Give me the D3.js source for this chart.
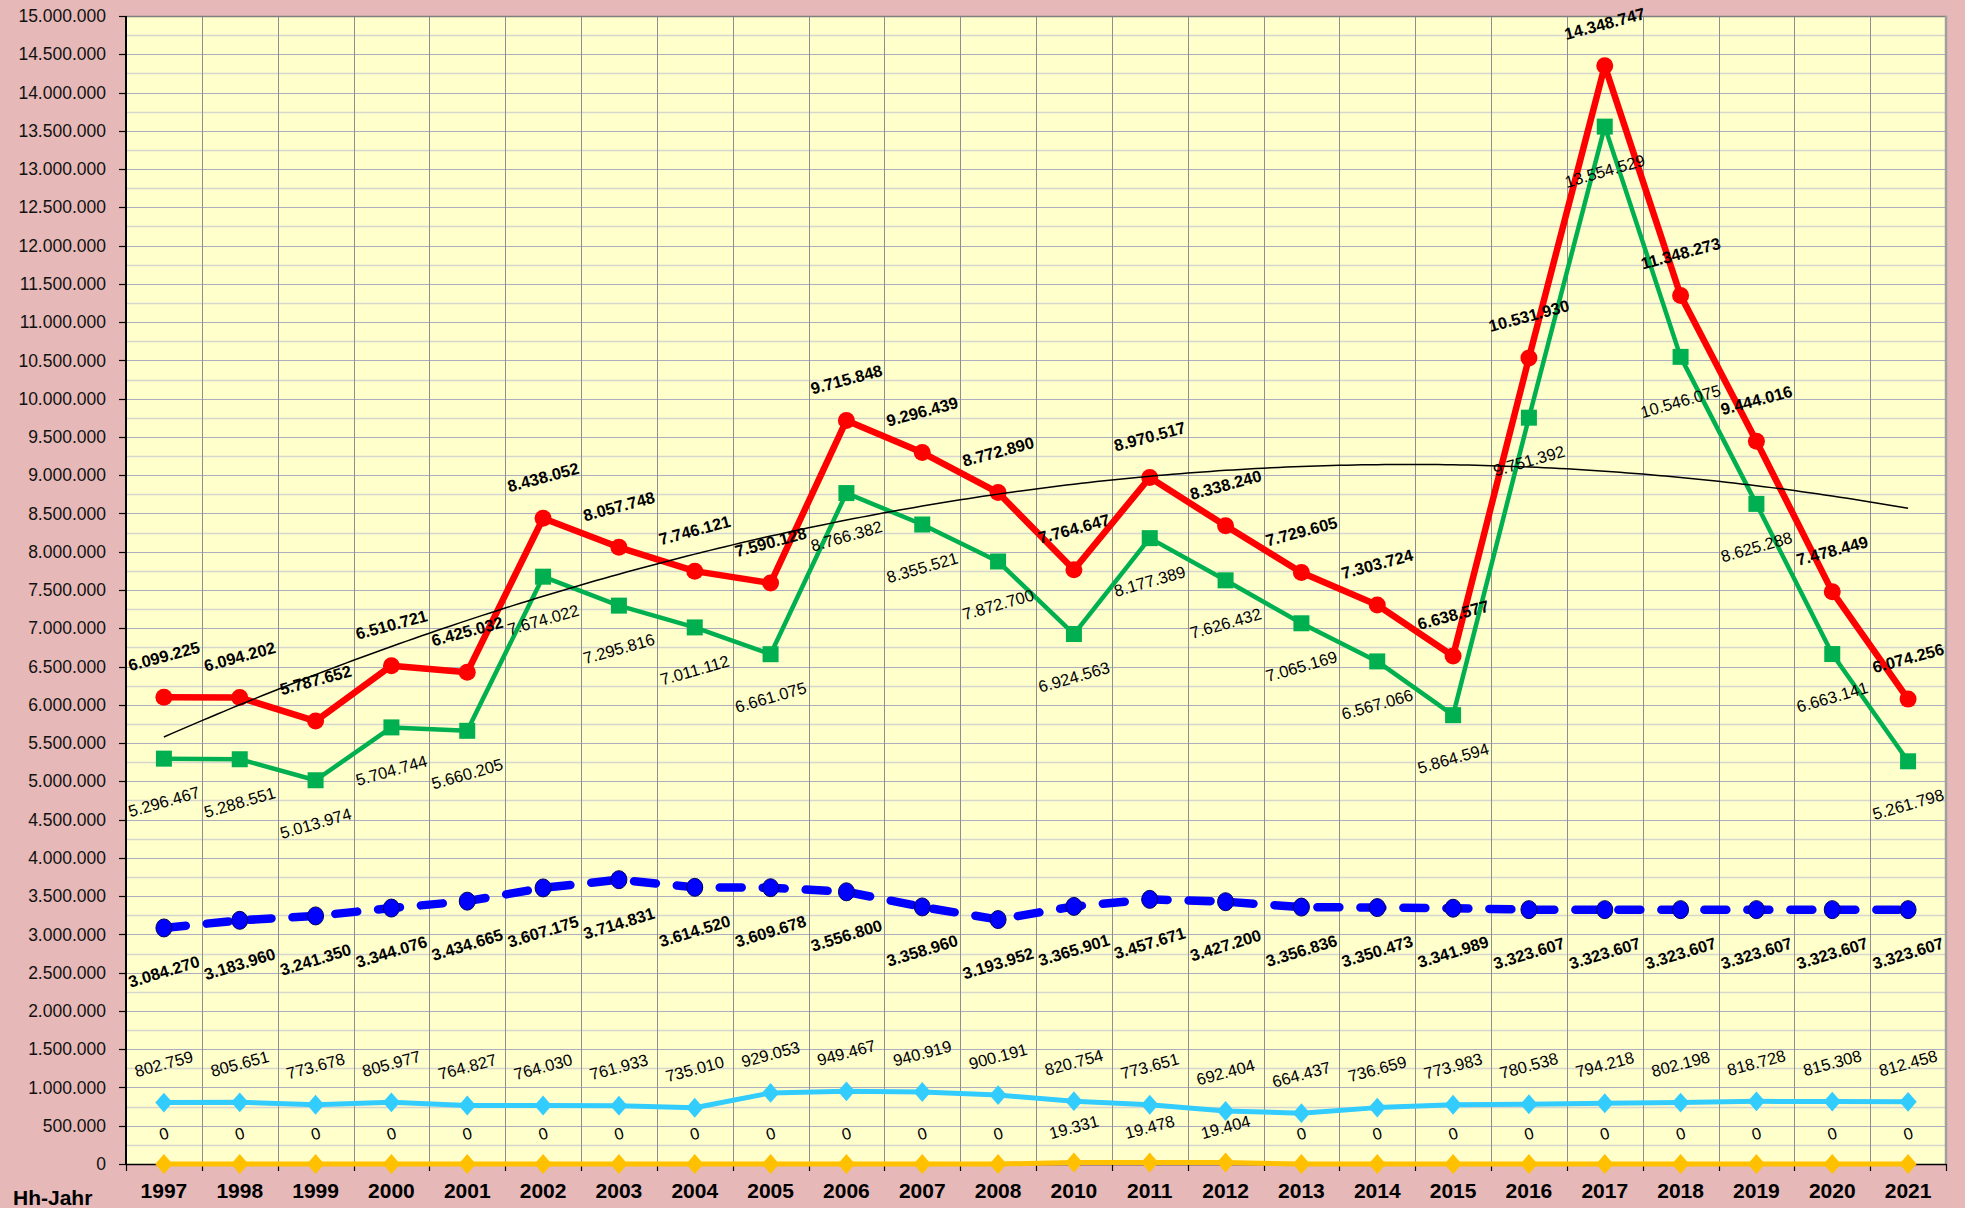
<!DOCTYPE html>
<html>
<head>
<meta charset="utf-8">
<script src="https://cdn.jsdelivr.net/npm/d3@7"></script>
<style>
  body { margin: 0; background: #E6B8B7; }
  svg { display: block; }
  text { font-family: "Liberation Sans", Arial, sans-serif; }
</style>
</head>
<body>
<svg id="chart"></svg>
<script>
(function() {
  'use strict';

  // --- Data ---
  var years = ['1997', '1998', '1999', '2000', '2001', '2002', '2003', '2004', '2005', '2006', '2007', '2008',
               '2010', '2011', '2012', '2013', '2014', '2015', '2016', '2017', '2018', '2019', '2020', '2021'];

  var redValues = [6099225, 6094202, 5787652, 6510721, 6425032, 8438052, 8057748, 7746121, 7590128, 9715848, 9296439, 8772890,
                   7764647, 8970517, 8338240, 7729605, 7303724, 6638577, 10531930, 14348747, 11348273, 9444016, 7478449, 6074256];

  var greenValues = [5296467, 5288551, 5013974, 5704744, 5660205, 7674022, 7295816, 7011112, 6661075, 8766382, 8355521, 7872700,
                     6924563, 8177389, 7626432, 7065169, 6567066, 5864594, 9751392, 13554529, 10546075, 8625288, 6663141, 5261798];

  var blueValues = [3084270, 3183960, 3241350, 3344076, 3434665, 3607175, 3714831, 3614520, 3609678, 3556800, 3358960, 3193952,
                    3365901, 3457671, 3427200, 3356836, 3350473, 3341989, 3323607, 3323607, 3323607, 3323607, 3323607, 3323607];

  var lightBlueValues = [802759, 805651, 773678, 805977, 764827, 764030, 761933, 735010, 929053, 949467, 940919, 900191,
                         820754, 773651, 692404, 664437, 736659, 773983, 780538, 794218, 802198, 818728, 815308, 812458];

  var goldValues = [0, 0, 0, 0, 0, 0, 0, 0, 0, 0, 0, 0,
                    19331, 19478, 19404, 0, 0, 0, 0, 0, 0, 0, 0, 0];

  var yMax = 15000000;
  var yStep = 500000;
  var xTitle = 'Hh-Jahr';

  // --- Layout ---
  var W = 1965, H = 1208;
  var left = 126, right = 1946, top = 16, bottom = 1164;

  var fmt = d3.formatLocale({ decimal: ',', thousands: '.', grouping: [3], currency: ['', '\u20AC'] }).format(',d');

  var svg = d3.select('#chart').attr('width', W).attr('height', H);

  svg.append('rect').attr('width', W).attr('height', H).attr('fill', '#E6B8B7');

  var x = d3.scaleBand().domain(years).range([left, right]).padding(0);
  var y = d3.scaleLinear().domain([0, yMax]).range([bottom, top]);
  function cx(i) { return x(years[i]) + x.bandwidth() / 2; }

  // Plot area
  svg.append('rect')
    .attr('x', left).attr('y', top)
    .attr('width', right - left).attr('height', bottom - top)
    .attr('fill', '#FFFFCC');

  // Horizontal grid: minor (250k) light, major (500k) darker
  var grid = svg.append('g');
  var minor = d3.range(yStep / 2, yMax, yStep);
  var major = d3.range(yStep, yMax, yStep);
  grid.selectAll('line.minor').data(minor).join('line')
    .attr('class', 'minor')
    .attr('x1', left).attr('x2', right)
    .attr('y1', function(d) { return Math.round(y(d)) + 0.5; })
    .attr('y2', function(d) { return Math.round(y(d)) + 0.5; })
    .attr('stroke', '#D6D6CF').attr('stroke-width', 1.5);
  grid.selectAll('line.major').data(major).join('line')
    .attr('class', 'major')
    .attr('x1', left).attr('x2', right)
    .attr('y1', function(d) { return Math.round(y(d)) + 0.5; })
    .attr('y2', function(d) { return Math.round(y(d)) + 0.5; })
    .attr('stroke', '#ADADC0').attr('stroke-width', 1);

  // Vertical grid at category boundaries
  grid.selectAll('line.vert').data(years.slice(1)).join('line')
    .attr('class', 'vert')
    .attr('x1', function(d) { return Math.round(x(d)) + 0.5; })
    .attr('x2', function(d) { return Math.round(x(d)) + 0.5; })
    .attr('y1', top).attr('y2', bottom)
    .attr('stroke', '#8F8F8F').attr('stroke-width', 1);

  // Plot frame (top / right)
  svg.append('line').attr('x1', left).attr('x2', right + 1).attr('y1', top + 0.5).attr('y2', top + 0.5)
    .attr('stroke', '#7F7F7F').attr('stroke-width', 1.5);
  svg.append('line').attr('x1', right).attr('x2', right).attr('y1', top).attr('y2', bottom)
    .attr('stroke', '#A0A0A0').attr('stroke-width', 2.5);

  // --- Axes ---
  var yAxis = svg.append('g');
  var yTicks = d3.range(0, yMax + 1, yStep);
  yAxis.selectAll('line').data(yTicks).join('line')
    .attr('x1', left - 7).attr('x2', left)
    .attr('y1', function(d) { return Math.round(y(d)) + 0.5; })
    .attr('y2', function(d) { return Math.round(y(d)) + 0.5; })
    .attr('stroke', '#000').attr('stroke-width', 1.2);
  yAxis.selectAll('text').data(yTicks).join('text')
    .attr('x', left - 20)
    .attr('y', function(d) { return y(d); })
    .attr('dy', '0.35em')
    .attr('text-anchor', 'end')
    .style('font-size', '17.5px')
    .style('fill', '#111')
    .text(function(d) { return fmt(d); });
  svg.append('line').attr('x1', left).attr('x2', left).attr('y1', top).attr('y2', bottom + 1)
    .attr('stroke', '#000').attr('stroke-width', 2);

  var xAxis = svg.append('g');
  var bounds = years.map(function(d) { return x(d); }).concat([right]);
  xAxis.selectAll('line').data(bounds).join('line')
    .attr('x1', function(d) { return Math.round(d) + 0.5; })
    .attr('x2', function(d) { return Math.round(d) + 0.5; })
    .attr('y1', bottom).attr('y2', bottom + 7)
    .attr('stroke', '#000').attr('stroke-width', 1.2);
  svg.append('line').attr('x1', left).attr('x2', right).attr('y1', bottom + 0.5).attr('y2', bottom + 0.5)
    .attr('stroke', '#000').attr('stroke-width', 1.5);
  xAxis.selectAll('text').data(years).join('text')
    .attr('x', function(d, i) { return cx(i); })
    .attr('y', 1198)
    .attr('text-anchor', 'middle')
    .style('font-size', '21px')
    .style('font-weight', '700')
    .style('fill', '#000')
    .text(function(d) { return d; });
  svg.append('text')
    .attr('x', 13).attr('y', 1205)
    .style('font-size', '21px')
    .style('font-weight', '700')
    .style('fill', '#000')
    .text(xTitle);

  // --- Series ---
  var series = svg.append('g');
  function lineFor(values) {
    return d3.line()
      .x(function(d, i) { return cx(i); })
      .y(function(d) { return y(d); })(values);
  }

  // green
  series.append('path').attr('d', lineFor(greenValues))
    .attr('fill', 'none').attr('stroke', '#00B050').attr('stroke-width', 4.5).attr('stroke-linejoin', 'round');
  series.append('g').selectAll('rect').data(greenValues).join('rect')
    .attr('x', function(d, i) { return cx(i) - 8; })
    .attr('y', function(d) { return y(d) - 8; })
    .attr('width', 16).attr('height', 16)
    .attr('fill', '#00B050');

  // red
  series.append('path').attr('d', lineFor(redValues))
    .attr('fill', 'none').attr('stroke', '#FF0000').attr('stroke-width', 6.5).attr('stroke-linejoin', 'round');
  series.append('g').selectAll('circle').data(redValues).join('circle')
    .attr('cx', function(d, i) { return cx(i); })
    .attr('cy', function(d) { return y(d); })
    .attr('r', 8.5)
    .attr('fill', '#FF0000');

  // blue dashed
  series.append('path').attr('d', lineFor(blueValues))
    .attr('fill', 'none').attr('stroke', '#0000FF').attr('stroke-width', 8.5)
    .attr('stroke-dasharray', '22,21').attr('stroke-linecap', 'round');
  series.append('g').selectAll('ellipse').data(blueValues).join('ellipse')
    .attr('cx', function(d, i) { return cx(i); })
    .attr('cy', function(d) { return y(d); })
    .attr('rx', 8).attr('ry', 9)
    .attr('fill', '#0000FF').attr('stroke', '#000060').attr('stroke-width', 1);

  // diamond series
  var diamond = d3.symbol().type(d3.symbolDiamond2).size(190);
  function diamondSeries(values, color) {
    series.append('path').attr('d', lineFor(values))
      .attr('fill', 'none').attr('stroke', color).attr('stroke-width', 5).attr('stroke-linejoin', 'round');
    series.append('g').selectAll('path').data(values).join('path')
      .attr('d', diamond)
      .attr('transform', function(d, i) { return 'translate(' + cx(i) + ',' + y(d) + ') scale(1,1.15)'; })
      .attr('fill', color);
  }
  diamondSeries(lightBlueValues, '#33CCFF');
  diamondSeries(goldValues, '#FFC000');

  // --- Trendline: 2nd order polynomial fit of red series ---
  function quadFit(vals) {
    var S = [0, 0, 0, 0, 0], T = [0, 0, 0];
    vals.forEach(function(v, i) {
      var t = i + 1;
      for (var k = 0; k < 5; k++) S[k] += Math.pow(t, k);
      for (var j = 0; j < 3; j++) T[j] += v * Math.pow(t, j);
    });
    var A = [[S[0], S[1], S[2], T[0]], [S[1], S[2], S[3], T[1]], [S[2], S[3], S[4], T[2]]];
    for (var c = 0; c < 3; c++) {
      for (var r = c + 1; r < 3; r++) {
        var f = A[r][c] / A[c][c];
        for (var k2 = c; k2 < 4; k2++) A[r][k2] -= f * A[c][k2];
      }
    }
    var b = [0, 0, 0];
    for (var r2 = 2; r2 >= 0; r2--) {
      var s = A[r2][3];
      for (var k3 = r2 + 1; k3 < 3; k3++) s -= A[r2][k3] * b[k3];
      b[r2] = s / A[r2][r2];
    }
    return function(t) { return b[0] + b[1] * t + b[2] * t * t; };
  }
  var trend = quadFit(redValues);
  var xt = d3.scaleLinear().domain([1, years.length]).range([cx(0), cx(years.length - 1)]);
  var ts = d3.range(1, years.length + 0.001, 0.1);
  svg.append('path')
    .attr('d', d3.line().x(function(t) { return xt(t); }).y(function(t) { return y(trend(t)); })(ts))
    .attr('fill', 'none').attr('stroke', '#000').attr('stroke-width', 1.5);

  // --- Data labels ---
  function addLabels(values, opts) {
    var a = opts.angle * Math.PI / 180;
    var g = svg.append('g');
    g.selectAll('text').data(values).join('text')
      .attr('text-anchor', 'middle')
      .attr('dy', '0.35em')
      .style('font-size', opts.size + 'px')
      .style('font-weight', opts.bold ? '700' : '400')
      .style('fill', '#000')
      .text(function(d) { return fmt(d); })
      .each(function(d, i) {
        var L = this.getComputedTextLength();
        var half = (L * Math.sin(a) + opts.size * Math.cos(a)) / 2;
        var off = opts.gap + half;
        var py = y(d) + (opts.above ? -off : off);
        d3.select(this).attr('transform', 'translate(' + cx(i) + ',' + py + ') rotate(' + (-opts.angle) + ')');
      });
  }

  addLabels(greenValues, { above: false, bold: false, angle: 16, size: 16.5, gap: 25 });
  addLabels(redValues, { above: true, bold: true, angle: 15, size: 16.5, gap: 23.5 });
  addLabels(blueValues, { above: false, bold: true, angle: 17, size: 16.5, gap: 25 });
  addLabels(lightBlueValues, { above: true, bold: false, angle: 15, size: 16.5, gap: 23 });
  addLabels(goldValues, { above: true, bold: false, angle: 15, size: 16.5, gap: 21 });
})();
</script>
</body>
</html>
